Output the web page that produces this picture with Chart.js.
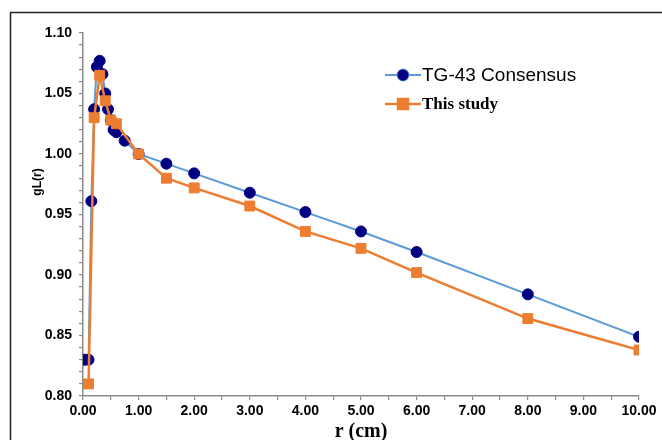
<!DOCTYPE html>
<html>
<head>
<meta charset="utf-8">
<script src="https://cdn.jsdelivr.net/npm/chart.js@4/dist/chart.umd.min.js"></script>
<style>
  html, body { margin: 0; padding: 0; background: #fff; }
  #wrap { position: relative; width: 662px; height: 440px; }
</style>
</head>
<body>
<div id="wrap"><canvas id="chart" width="662" height="440"></canvas></div>
<script>
// data
const tgR   = [0.03, 0.10, 0.15, 0.20, 0.25, 0.30, 0.35, 0.40, 0.45, 0.50, 0.55, 0.60, 0.75, 1.00, 1.50, 2.00, 3.00, 4.00, 5.00, 6.00, 8.00, 10.00];
const tgG   = [0.830, 0.830, 0.961, 1.037, 1.072, 1.077, 1.066, 1.050, 1.037, 1.028, 1.020, 1.018, 1.011, 1.000, 0.992, 0.984, 0.968, 0.952, 0.936, 0.919, 0.884, 0.849];
const studyR = [0.10, 0.20, 0.30, 0.40, 0.50, 0.60, 1.00, 1.50, 2.00, 3.00, 4.00, 5.00, 6.00, 8.00, 10.00];
const studyG = [0.810, 1.030, 1.065, 1.044, 1.028, 1.025, 1.000, 0.980, 0.972, 0.957, 0.936, 0.922, 0.902, 0.864, 0.838];
const seriesNames = ["TG-43 Consensus", "This study"];

const SANS = "'Liberation Sans', Arial, sans-serif";
const SERIF = "'Liberation Serif', 'Times New Roman', serif";
const AXIS_GREY = "#8a8a8a";

function toPoints(xs, ys) {
  return xs.map((x, i) => ({ x: x, y: ys[i] }));
}

// outer frame (only top and left edge are visible in the picture)
const framePlugin = {
  id: "frame",
  beforeDraw(chart) {
    const ctx = chart.ctx;
    ctx.save();
    ctx.strokeStyle = "#222";
    ctx.lineWidth = 1.5;
    ctx.beginPath();
    ctx.moveTo(10.5, 440);
    ctx.lineTo(10.5, 12.5);
    ctx.lineTo(662, 12.5);
    ctx.stroke();
    ctx.restore();
  }
};

// y title sits above the axis middle, so draw it by hand
const yTitlePlugin = {
  id: "yTitle",
  afterDraw(chart) {
    const ctx = chart.ctx;
    ctx.save();
    ctx.translate(38, 182);
    ctx.rotate(-Math.PI / 2);
    ctx.font = "bold 12px " + SANS;
    ctx.fillStyle = "#000";
    ctx.textAlign = "center";
    ctx.textBaseline = "middle";
    ctx.fillText("gL(r)", 0, 0);
    ctx.restore();
  }
};

// legend with two different fonts, like the original
const legendPlugin = {
  id: "mixedLegend",
  afterDraw(chart) {
    const ctx = chart.ctx;
    const rows = [
      { y: 75, font: "19px " + SANS },
      { y: 104, font: "bold 17px " + SERIF }
    ];
    rows.forEach((row, i) => {
      const ds = chart.data.datasets[i];
      ctx.save();
      ctx.strokeStyle = ds.borderColor;
      ctx.lineWidth = ds.borderWidth;
      ctx.beginPath();
      ctx.moveTo(385, row.y);
      ctx.lineTo(421, row.y);
      ctx.stroke();
      Chart.helpers.drawPoint(ctx, {
        pointStyle: ds.pointStyle,
        radius: ds.pointRadius,
        borderWidth: 1,
        rotation: 0
      }, 403, row.y);
      ctx.fillStyle = ds.pointBackgroundColor;
      ctx.strokeStyle = ds.pointBorderColor;
      ctx.fill();
      ctx.restore();

      ctx.save();
      ctx.font = row.font;
      ctx.fillStyle = "#000";
      ctx.textBaseline = "middle";
      ctx.fillText(ds.label, 422, row.y + 1);
      ctx.restore();
    });
  }
};

const ctx = document.getElementById("chart").getContext("2d");
const chart = new Chart(ctx, {
  type: "line",
  data: {
    datasets: [
      {
        label: seriesNames[0],
        data: toPoints(tgR, tgG),
        borderColor: "#5B9BD5",
        borderWidth: 2,
        pointStyle: "circle",
        pointRadius: 5.5,
        pointBackgroundColor: "#000080",
        pointBorderColor: "#000080",
        pointBorderWidth: 1,
        order: 2
      },
      {
        label: seriesNames[1],
        data: toPoints(studyR, studyG),
        borderColor: "#ED7D31",
        borderWidth: 2.5,
        pointStyle: "rect",
        pointRadius: 7,
        pointBackgroundColor: "#ED7D31",
        pointBorderColor: "#ED7D31",
        pointBorderWidth: 1,
        order: 1
      }
    ]
  },
  options: {
    responsive: false,
    animation: false,
    layout: { padding: { left: 10, top: 33, right: 23, bottom: 0 } },
    plugins: {
      legend: { display: false },
      tooltip: { enabled: false }
    },
    elements: { line: { tension: 0 } },
    scales: {
      x: {
        type: "linear",
        min: 0,
        max: 10,
        afterFit(scale) { scale.height = 44; },
        border: { display: true, color: AXIS_GREY, width: 1.5 },
        grid: { drawOnChartArea: false, drawTicks: true, tickLength: 4, color: AXIS_GREY, lineWidth: 1.2 },
        ticks: {
          stepSize: 0.5,
          autoSkip: false,
          maxRotation: 0,
          padding: 3,
          color: "#000",
          font: { family: SANS, size: 14, weight: "bold" },
          callback: (v) => (Math.abs(v - Math.round(v)) < 1e-6 ? v.toFixed(2) : "")
        },
        title: {
          display: true,
          text: "r (cm)",
          color: "#000",
          padding: { top: 0, bottom: -4 },
          font: { family: SERIF, size: 20, weight: "bold" }
        }
      },
      y: {
        type: "linear",
        min: 0.8,
        max: 1.1,
        afterFit(scale) { scale.width = 73; },
        border: { display: true, color: AXIS_GREY, width: 1.5 },
        grid: { drawOnChartArea: false, drawTicks: true, tickLength: 4, color: AXIS_GREY, lineWidth: 1.2 },
        ticks: {
          stepSize: 0.01,
          autoSkip: false,
          padding: 7,
          color: "#000",
          font: { family: SANS, size: 14, weight: "bold" },
          callback: (v) => (Math.round(v * 100) % 5 === 0 ? v.toFixed(2) : "")
        }
      }
    }
  },
  plugins: [framePlugin, yTitlePlugin, legendPlugin]
});
</script>
</body>
</html>
